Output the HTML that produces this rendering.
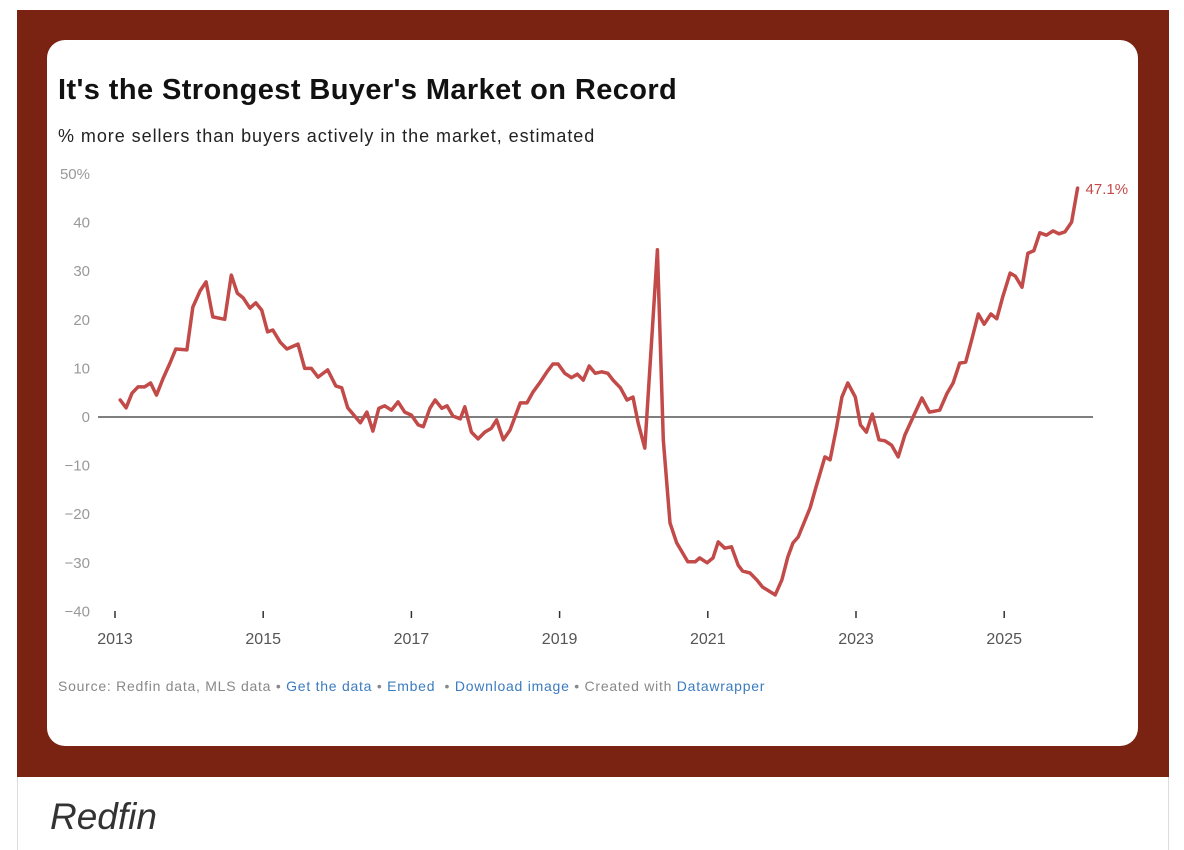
<!DOCTYPE html>
<html><head><meta charset="utf-8">
<style>
html,body{margin:0;padding:0;background:#fff;width:1184px;height:850px;overflow:hidden;font-family:"Liberation Sans",Arial,sans-serif;}
#frame{position:absolute;left:17px;top:10px;width:1152px;height:767px;background:#7a2312;}
#sideL{position:absolute;left:17px;top:777px;width:1px;height:73px;background:#ddd;}
#sideR{position:absolute;left:1168px;top:777px;width:1px;height:73px;background:#ddd;}
#card{position:absolute;left:47px;top:40px;width:1091px;height:706px;background:#fff;border-radius:18px;}
#title{position:absolute;left:58px;top:74px;font-size:29px;font-weight:bold;color:#111;letter-spacing:0.4px;}
#subtitle{position:absolute;left:58px;top:126px;font-size:18px;color:#222;letter-spacing:0.95px;}
#source{position:absolute;left:58px;top:678px;font-size:14px;color:#888;letter-spacing:0.75px;}
#source a{color:#3b7bbf;text-decoration:none;}
#caption{position:absolute;left:50px;top:796px;font-size:37px;font-style:italic;color:#333;}
svg{position:absolute;left:0;top:0;}
</style></head>
<body>
<div id="frame"></div>
<div id="sideL"></div>
<div id="sideR"></div>
<div id="card"></div>
<div id="title">It's the Strongest Buyer's Market on Record</div>
<div id="subtitle">% more sellers than buyers actively in the market, estimated</div>
<svg id="chart" width="1184" height="850"></svg>
<div id="source">Source: Redfin data, MLS data • <a href="#">Get the data</a> • <a href="#">Embed</a> &nbsp;• <a href="#">Download image</a> • Created with <a href="#">Datawrapper</a></div>
<div id="caption">Redfin</div>
<script>
const dates=[2013.07,2013.15,2013.23,2013.31,2013.40,2013.48,2013.56,2013.65,2013.74,2013.82,2013.97,2014.05,2014.15,2014.23,2014.32,2014.48,2014.57,2014.65,2014.73,2014.82,2014.90,2014.98,2015.06,2015.13,2015.23,2015.32,2015.47,2015.56,2015.65,2015.74,2015.87,2015.98,2016.06,2016.14,2016.31,2016.40,2016.48,2016.56,2016.64,2016.73,2016.82,2016.91,2017.00,2017.09,2017.16,2017.25,2017.32,2017.41,2017.48,2017.56,2017.66,2017.72,2017.81,2017.90,2017.99,2018.08,2018.15,2018.24,2018.33,2018.47,2018.56,2018.64,2018.74,2018.83,2018.91,2018.98,2019.07,2019.16,2019.24,2019.32,2019.40,2019.48,2019.57,2019.65,2019.72,2019.82,2019.91,2019.99,2020.06,2020.15,2020.32,2020.40,2020.49,2020.58,2020.73,2020.83,2020.89,2020.99,2021.07,2021.14,2021.23,2021.32,2021.41,2021.47,2021.57,2021.66,2021.74,2021.91,2022.00,2022.08,2022.15,2022.22,2022.38,2022.45,2022.54,2022.58,2022.65,2022.74,2022.81,2022.89,2022.99,2023.06,2023.14,2023.22,2023.31,2023.39,2023.48,2023.57,2023.66,2023.77,2023.89,2023.99,2024.13,2024.23,2024.31,2024.40,2024.48,2024.56,2024.65,2024.73,2024.82,2024.90,2024.98,2025.08,2025.15,2025.24,2025.32,2025.40,2025.48,2025.57,2025.66,2025.74,2025.82,2025.91,2025.99];
const values=[3.5,1.9,4.9,6.2,6.2,7,4.5,8,11,14,13.8,22.6,26,27.8,20.6,20.1,29.2,25.5,24.5,22.4,23.5,22,17.5,17.9,15.4,14,15,10,10,8.2,9.7,6.4,6,1.9,-1.2,1,-2.9,1.8,2.3,1.4,3.1,1,0.4,-1.6,-2,1.8,3.5,1.8,2.3,0.2,-0.4,2.1,-3.1,-4.5,-3.1,-2.3,-0.6,-4.7,-2.7,2.9,2.9,5.1,7.2,9.3,10.9,10.9,9,8.1,8.8,7.6,10.5,9,9.3,9,7.6,6,3.5,4.1,-1.2,-6.4,34.4,-4.7,-21.8,-25.9,-29.8,-29.8,-29,-30,-29,-25.7,-27,-26.7,-30.5,-31.7,-32.1,-33.5,-35,-36.6,-33.5,-28.8,-25.9,-24.7,-18.7,-15,-10.3,-8.2,-8.8,-2,4.1,7,4.1,-1.6,-3.1,0.6,-4.7,-4.9,-5.8,-8.2,-3.7,0,3.9,1,1.4,4.9,7,11.1,11.3,15.8,21.2,19.1,21.2,20.2,24.7,29.6,29,26.7,33.7,34.2,37.9,37.4,38.3,37.7,38.1,40.1,47.1];
const yTicks=[50,40,30,20,10,0,-10,-20,-30,-40];
const xTicks=[2013,2015,2017,2019,2021,2023,2025];
const lastLabel="47.1%";

const NS="http://www.w3.org/2000/svg";
const svg=document.getElementById('chart');
const X=d=>115+(d-2013)*74.1;
const Y=v=>417-v*4.86;
function mk(tag,attrs){const e=document.createElementNS(NS,tag);for(const k in attrs)e.setAttribute(k,attrs[k]);svg.appendChild(e);return e;}

yTicks.forEach(t=>{
  const e=mk('text',{x:90,y:Y(t)+5,'text-anchor':'end','font-size':15,fill:'#999','font-family':'Liberation Sans, sans-serif'});
  e.textContent=(t===50?'50%':(t<0?'\u2212'+Math.abs(t):String(t)));
  
  
});
xTicks.forEach(t=>{
  const l=mk('line',{x1:X(t),x2:X(t),y1:611,y2:618,stroke:'#333','stroke-width':1.5});
  
  
  const e=mk('text',{x:X(t),y:644,'text-anchor':'middle','font-size':16,fill:'#555','font-family':'Liberation Sans, sans-serif'});
  e.textContent=String(t);
  
  
});
const zl=mk('line',{x1:98,x2:1093,y1:Y(0),y2:Y(0),stroke:'#555','stroke-width':1.5});



const d=dates.map((t,i)=>(i?'L':'M')+X(t).toFixed(1)+','+Y(values[i]).toFixed(1)).join(' ');
const p=mk('path',{d:d,fill:'none',stroke:'#c24a48','stroke-width':3.5,'stroke-linejoin':'round','stroke-linecap':'round'});



const n=dates.length-1;
const lab=mk('text',{x:X(dates[n])+8,y:Y(values[n])+6,'font-size':15,fill:'#c24a48','font-family':'Liberation Sans, sans-serif'});
lab.textContent=lastLabel;


</script>
</body></html>
